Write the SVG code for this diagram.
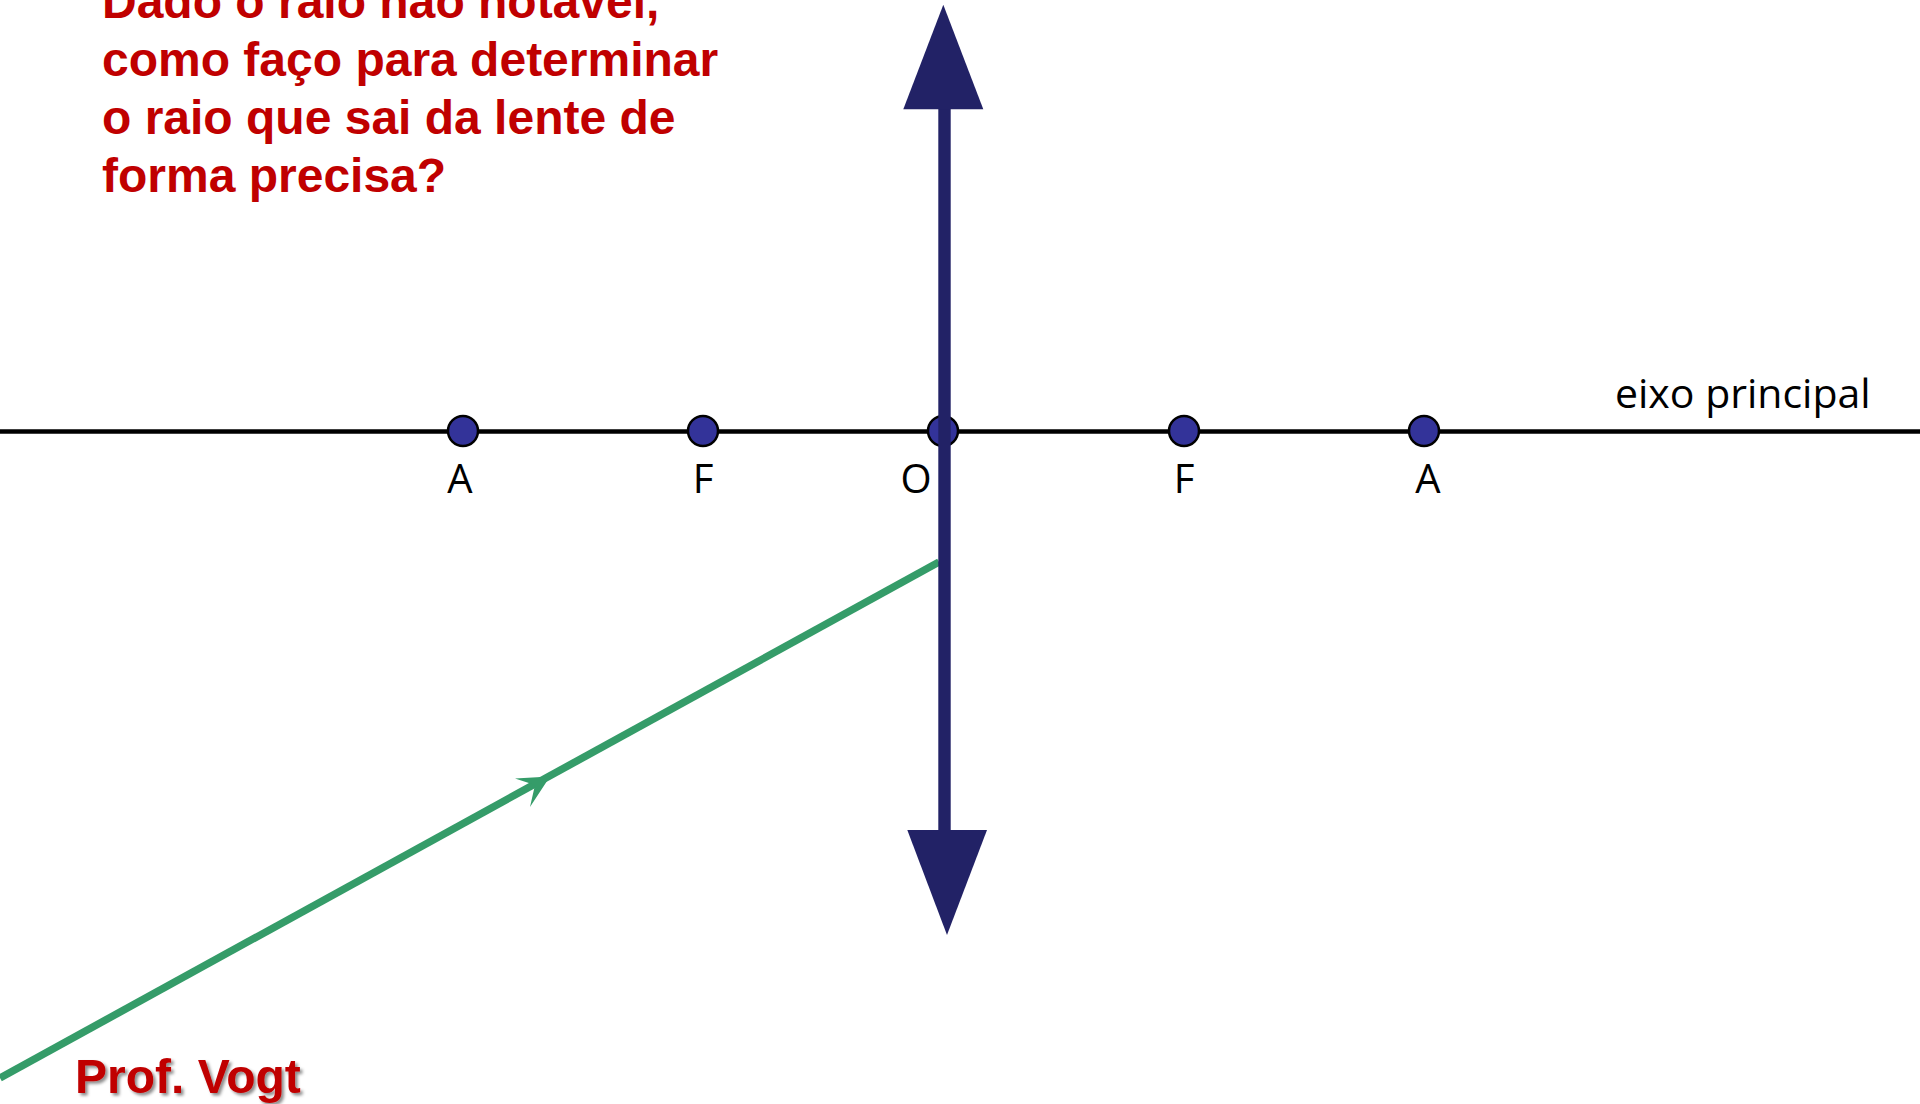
<svg xmlns="http://www.w3.org/2000/svg" width="1920" height="1104" viewBox="0 0 1920 1104">
  <style>
    .q { font-family: "Liberation Sans", Arial, sans-serif; font-weight: bold; font-size: 48px; fill: #C00000; }
    .lbl { font-family: "Open Sans", "Noto Sans", sans-serif; font-size: 40px; fill: #000; }
    .dot { fill: #333399; stroke: #000; stroke-width: 2.5; }
    .lens { fill: #222266; }
  </style>
  <defs>
    <filter id="shadow" x="-10%" y="-30%" width="130%" height="160%">
      <feDropShadow dx="2.5" dy="2.5" stdDeviation="1.5" flood-color="#000" flood-opacity="0.45"/>
    </filter>
  </defs>
  <rect width="1920" height="1104" fill="#fff"/>

  <g id="question">
    <text class="q" x="102" y="18">Dado o raio não notável,</text>
    <text class="q" x="102" y="76">como faço para determinar</text>
    <text class="q" x="102" y="134">o raio que sai da lente de</text>
    <text class="q" x="102" y="192">forma precisa?</text>
  </g>

  <g id="connectors">
    <line id="eixo" x1="0" y1="431.5" x2="1920" y2="431.5" stroke="#000" stroke-width="4.5"/>
    <g id="raio">
      <line x1="0" y1="1078" x2="939" y2="562" stroke="#359C69" stroke-width="7.5"/>
      <polygon points="550,776.5 515,778.5 535,785 530,807" fill="#359C69"/>
    </g>
  </g>

  <g id="pontos">
    <circle id="A1" class="dot" cx="463" cy="431" r="15"/>
    <circle id="F1" class="dot" cx="703" cy="431" r="15"/>
    <circle id="O" class="dot" cx="943" cy="431" r="15"/>
    <circle id="F2" class="dot" cx="1184" cy="431" r="15"/>
    <circle id="A2" class="dot" cx="1424" cy="431" r="15"/>
  </g>

  <g id="lente">
    <rect class="lens" x="938.3" y="105" width="12.4" height="730"/>
    <polygon class="lens" points="943.3,4.7 983.3,109.3 903.3,109.3"/>
    <polygon class="lens" points="907.3,830 987,830 947,935"/>
  </g>

  <g id="rotulos">
    <text class="lbl" x="460" y="493" text-anchor="middle">A</text>
    <text class="lbl" x="703" y="493" text-anchor="middle">F</text>
    <text class="lbl" x="916" y="493" text-anchor="middle">O</text>
    <text class="lbl" x="1184" y="493" text-anchor="middle">F</text>
    <text class="lbl" x="1428" y="493" text-anchor="middle">A</text>
    <text class="lbl" x="1615" y="408" style="font-size:41px">eixo principal</text>
  </g>

  <g id="autor">
    <text class="q" x="75" y="1093" filter="url(#shadow)">Prof. Vogt</text>
  </g>
</svg>
